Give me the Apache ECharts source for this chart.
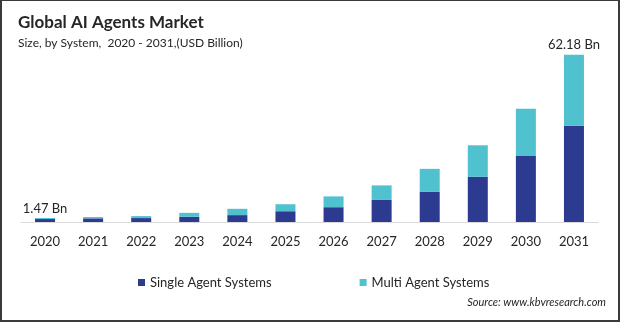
<!DOCTYPE html>
<html>
<head>
<meta charset="utf-8">
<script src="https://cdn.jsdelivr.net/npm/echarts@6/dist/echarts.min.js"></script>
<style>
  html, body { margin: 0; padding: 0; background: #fff; }
  #chart {
    width: 620px; height: 322px; box-sizing: border-box;
    border-style: solid; border-color: #3a3a3a;
    border-width: 1px 2px 2px 2px;
  }
</style>
</head>
<body>
<div id="chart"></div>
<script>
// Market size by system type, USD billion
const years = ['2020', '2021', '2022', '2023', '2024', '2025', '2026', '2027', '2028', '2029', '2030', '2031'];
const singleAgent = [1.10, 1.35, 1.46, 1.95, 2.56, 4.00, 5.50, 8.20, 11.30, 16.80, 24.50, 35.80];
const multiAgent = [0.37, 0.48, 0.74, 1.45, 2.34, 2.60, 4.00, 5.40, 8.45, 11.70, 17.60, 26.38];
// Years whose stacked total is annotated
const labelledYears = ['2020', '2031'];

const FONT = 'Lato';
const NAVY = '#2c3a8f';
const CYAN = '#4fc1cf';

const chart = echarts.init(document.getElementById('chart'), null, { renderer: 'canvas' });

const multiData = multiAgent.map((v, i) => {
  const item = { value: v };
  if (labelledYears.includes(years[i])) {
    const total = Math.round((v + singleAgent[i]) * 100) / 100;
    item.label = { show: true, formatter: total.toFixed(2) + ' Bn' };
  }
  return item;
});

chart.setOption({
  animation: false,
  textStyle: { fontFamily: FONT },
  title: [
    {
      text: 'Global AI Agents Market',
      left: 11, top: 8,
      textStyle: { fontFamily: FONT, fontSize: 17, fontWeight: 'bold', color: '#262626' }
    },
    {
      text: 'Size, by System,  2020 - 2031,(USD Billion)',
      left: 11, top: 31,
      textStyle: { fontFamily: FONT, fontSize: 12, fontWeight: 'normal', color: '#262626' }
    }
  ],
  legend: {
    left: 131, top: 270,
    icon: 'rect', itemWidth: 7, itemHeight: 7, itemGap: 88,
    textStyle: { fontFamily: FONT, fontSize: 13, color: '#262626', padding: [0, 0, 0, 0] },
    data: ['Single Agent Systems', 'Multi Agent Systems']
  },
  grid: { left: 19, right: 20, top: 32.6, bottom: 98, containLabel: false },
  xAxis: {
    type: 'category',
    data: years,
    axisLine: { lineStyle: { color: '#d9d9d9', width: 1 } },
    axisTick: { show: false },
    axisLabel: { color: '#262626', fontSize: 13, fontFamily: FONT, margin: 13 }
  },
  yAxis: {
    type: 'value', min: 0, max: 70, show: false,
    splitLine: { show: false }
  },
  series: [
    {
      name: 'Single Agent Systems', type: 'bar', stack: 'size',
      data: singleAgent, barWidth: 20,
      itemStyle: { color: NAVY }
    },
    {
      name: 'Multi Agent Systems', type: 'bar', stack: 'size',
      data: multiData, barWidth: 20,
      itemStyle: { color: CYAN },
      label: {
        show: false, position: 'top', distance: 3,
        fontFamily: FONT, fontSize: 13, color: '#262626'
      }
    }
  ],
  graphic: [
    {
      type: 'text', right: 12, top: 296,
      style: {
        text: 'Source: www.kbvresearch.com',
        font: 'italic 11px ' + FONT, fill: '#262626'
      }
    }
  ]
});
</script>
</body>
</html>
